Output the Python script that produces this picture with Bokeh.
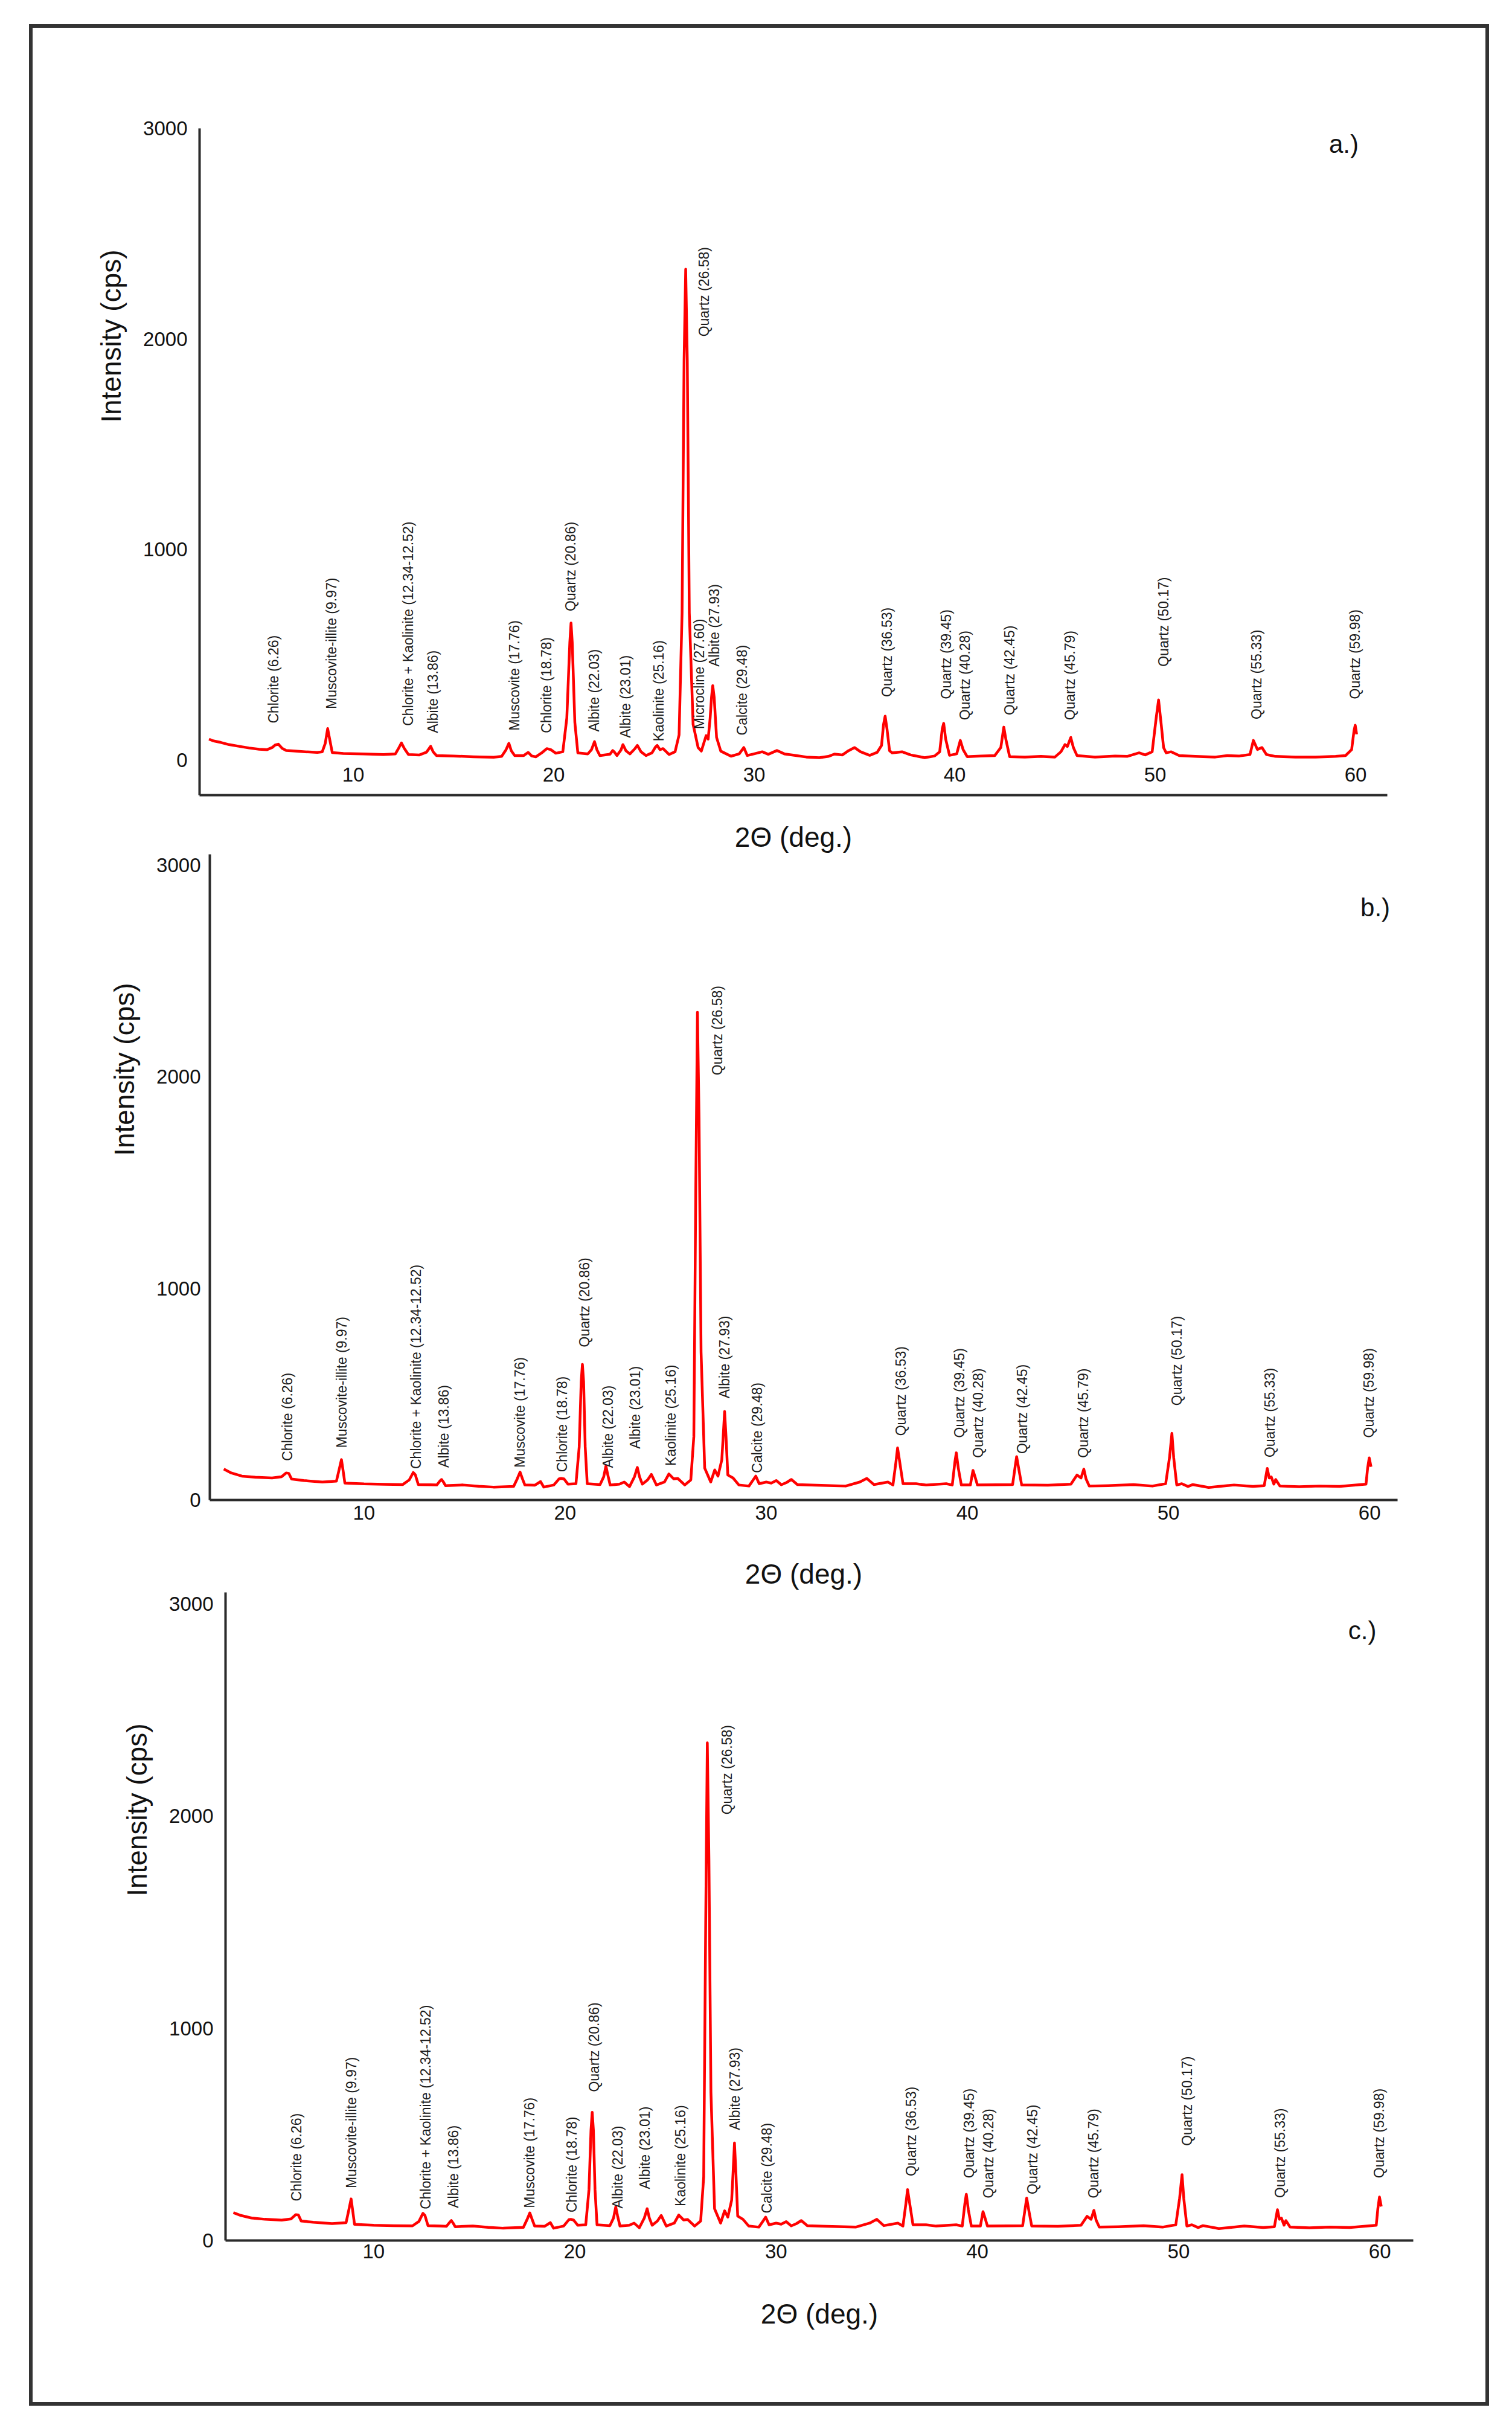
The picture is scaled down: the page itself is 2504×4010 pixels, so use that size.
import math
from bokeh.plotting import figure
from bokeh.models import FixedTicker, Label, Range1d, Title
from bokeh.layouts import column
from bokeh.embed import file_html
from bokeh.resources import INLINE
from bokeh.core.properties import value

FONT = "Liberation Sans"
RED = "#ff0000"
INK = "#1c1c1c"
AXIS_INK = "#2b2b2b"

# ---------------- sample a: diffractogram (2-theta in degrees, counts per second)
two_theta_a = [2.80, 3.00, 3.40, 3.80, 4.30, 4.80, 5.30, 5.70, 5.95, 6.10, 6.26, 6.45, 6.65, 7.00, 7.60, 8.20, 8.45,
               8.60, 8.72, 8.82, 8.95, 9.50, 10.50, 11.50, 12.10, 12.25, 12.40, 12.55, 12.75, 13.30, 13.65, 13.86,
               13.98, 14.15, 15.00, 16.00, 17.00, 17.40, 17.62, 17.76, 17.88, 18.05, 18.50, 18.72, 18.90, 19.10,
               19.40, 19.65, 19.85, 20.10, 20.45, 20.65, 20.80, 20.86, 20.92, 21.05, 21.20, 21.70, 21.88, 22.03,
               22.15, 22.30, 22.80, 22.94, 23.01, 23.15, 23.35, 23.45, 23.60, 23.80, 24.05, 24.17, 24.35, 24.60,
               24.90, 25.07, 25.16, 25.30, 25.45, 25.75, 26.05, 26.25, 26.40, 26.50, 26.58, 26.66, 26.76, 26.95,
               27.20, 27.36, 27.60, 27.70, 27.80, 27.87, 27.93, 28.00, 28.12, 28.33, 28.84, 29.25, 29.48, 29.65,
               30.02, 30.40, 30.70, 31.13, 31.50, 32.00, 32.60, 33.25, 33.70, 34.00, 34.40, 34.70, 35.00, 35.30,
               35.76, 36.13, 36.35, 36.45, 36.53, 36.62, 36.75, 36.88, 37.37, 37.80, 38.50, 39.00, 39.25, 39.38,
               39.45, 39.55, 39.74, 40.10, 40.28, 40.42, 40.62, 41.30, 42.00, 42.30, 42.45, 42.55, 42.74, 43.50,
               44.30, 45.00, 45.30, 45.50, 45.62, 45.79, 45.92, 46.10, 47.00, 48.00, 48.60, 49.20, 49.50, 49.85,
               50.05, 50.17, 50.30, 50.42, 50.55, 50.80, 51.20, 52.00, 53.00, 53.60, 54.20, 54.73, 54.90, 55.10,
               55.33, 55.55, 56.00, 57.00, 58.00, 59.00, 59.50, 59.80, 59.92, 59.98, 60.05]
counts_a = [100, 92, 84, 74, 66, 58, 52, 50, 60, 72, 76, 56, 46, 44, 40, 37, 40,
            80, 150, 100, 36, 32, 30, 27, 30, 55, 82, 55, 27, 25, 38, 66,
            40, 22, 20, 16, 14, 18, 50, 80, 45, 22, 22, 37, 20, 16,
            35, 55, 50, 33, 40, 200, 560, 651, 560, 180, 35, 30, 50, 88,
            50, 22, 28, 46, 40, 22, 48, 74, 45, 30, 55, 70, 40, 22,
            35, 62, 70, 50, 55, 27, 40, 120, 700, 1900, 2331, 1900, 700, 170,
            60, 43, 117, 100, 200, 300, 354, 300, 108, 43, 19, 30, 60, 22,
            31, 40, 28, 46, 30, 23, 15, 12, 18, 29, 25, 45, 60, 40,
            23, 37, 70, 170, 209, 150, 45, 35, 40, 25, 12, 20, 40, 150,
            175, 100, 23, 30, 94, 50, 17, 20, 22, 60, 157, 100, 17, 15,
            18, 15, 40, 74, 65, 108, 60, 22, 15, 20, 18, 35, 25, 40,
            200, 286, 171, 60, 35, 40, 22, 18, 15, 22, 20, 27, 94, 51,
            60, 27, 18, 15, 15, 18, 22, 50, 140, 166, 123]

# ---------------- sample b
two_theta_b = [3.03, 3.40, 3.93, 4.60, 5.43, 5.90, 6.13, 6.26, 6.40, 7.00, 7.93, 8.63, 8.78, 8.88, 8.96, 9.05,
               10.00, 11.00, 11.93, 12.25, 12.45, 12.55, 12.70, 13.30, 13.62, 13.78, 13.86, 13.95, 14.05, 14.93,
               15.70, 16.44, 17.44, 17.62, 17.76, 17.88, 18.00, 18.50, 18.78, 18.94, 19.44, 19.70, 19.80, 19.94,
               20.14, 20.54, 20.70, 20.80, 20.86, 20.92, 21.00, 21.10, 21.74, 21.92, 22.03, 22.12, 22.24, 22.70,
               22.94, 23.20, 23.45, 23.59, 23.70, 23.84, 24.10, 24.29, 24.42, 24.54, 24.94, 25.16, 25.40, 25.60,
               25.95, 26.25, 26.40, 26.50, 26.58, 26.66, 26.76, 26.94, 27.24, 27.44, 27.60, 27.79, 27.86, 27.93,
               28.00, 28.09, 28.35, 28.64, 29.14, 29.35, 29.48, 29.65, 30.00, 30.25, 30.50, 30.75, 31.00, 31.25,
               31.55, 32.50, 33.95, 34.65, 35.00, 35.35, 36.05, 36.30, 36.45, 36.53, 36.62, 36.80, 37.45, 37.95,
               38.95, 39.25, 39.38, 39.45, 39.55, 39.70, 40.15, 40.28, 40.38, 40.50, 41.50, 42.25, 42.38, 42.45,
               42.55, 42.70, 44.00, 45.15, 45.45, 45.65, 45.79, 45.90, 46.06, 47.00, 48.26, 49.20, 49.86, 50.05,
               50.17, 50.26, 50.41, 50.66, 50.97, 51.21, 52.00, 53.26, 54.20, 54.76, 54.91, 55.01, 55.11, 55.24,
               55.33, 55.54, 56.50, 57.50, 58.50, 59.82, 59.90, 59.98, 60.07]
counts_b = [146, 128, 113, 108, 104, 110, 128, 126, 99, 92, 85, 89, 150, 191, 140, 80,
            76, 74, 73, 95, 130, 120, 73, 72, 71, 90, 97, 85, 68, 71,
            65, 61, 64, 100, 132, 100, 71, 70, 87, 61, 71, 100, 102, 100,
            75, 77, 250, 560, 641, 560, 250, 77, 73, 110, 161, 120, 71, 75,
            85, 63, 110, 154, 110, 75, 95, 121, 95, 71, 85, 123, 100, 102,
            71, 95, 300, 1500, 2305, 1800, 700, 151, 85, 142, 113, 189, 300, 418,
            300, 118, 104, 71, 66, 95, 113, 77, 85, 80, 92, 72, 82, 97,
            73, 70, 66, 85, 102, 73, 85, 71, 180, 246, 190, 77, 77, 71,
            77, 71, 180, 223, 150, 71, 71, 140, 110, 71, 72, 73, 160, 205,
            150, 71, 70, 75, 118, 104, 146, 100, 66, 68, 73, 66, 77, 200,
            315, 199, 71, 77, 64, 73, 59, 71, 64, 68, 149, 104, 109, 75,
            97, 66, 63, 66, 64, 75, 150, 199, 157]

# ---------------- sample c
two_theta_c = two_theta_b
counts_c = [131, 118, 106, 100, 96, 102, 122, 120, 92, 86, 80, 84, 150, 196, 140, 76,
            72, 70, 69, 90, 128, 118, 70, 68, 67, 86, 94, 82, 65, 68,
            62, 58, 62, 98, 130, 98, 68, 67, 84, 58, 68, 98, 100, 96,
            72, 74, 240, 520, 604, 520, 240, 74, 70, 106, 158, 116, 68, 72,
            82, 60, 106, 150, 106, 72, 92, 118, 92, 68, 82, 120, 97, 99,
            68, 92, 300, 1500, 2345, 1800, 700, 150, 82, 140, 110, 190, 320, 460,
            320, 115, 100, 68, 63, 92, 110, 74, 82, 77, 89, 69, 79, 94,
            70, 67, 63, 82, 100, 70, 82, 68, 175, 240, 185, 74, 74, 68,
            74, 68, 175, 218, 145, 68, 68, 136, 106, 68, 69, 70, 155, 200,
            145, 68, 67, 72, 114, 100, 142, 96, 63, 65, 70, 63, 74, 200,
            310, 195, 68, 74, 61, 70, 56, 68, 61, 65, 145, 100, 105, 72,
            94, 63, 60, 63, 61, 72, 150, 205, 160]

# ---------------- phase identifications (text, anchor 2-theta, anchor counts)
phases_a = ["Chlorite (6.26)", "Muscovite-illite (9.97)", "Chlorite + Kaolinite (12.34-12.52)", "Albite (13.86)",
            "Muscovite (17.76)", "Chlorite (18.78)", "Quartz (20.86)", "Albite (22.03)", "Albite (23.01)",
            "Kaolinite (25.16)", "Quartz (26.58)", "Microcline (27.60)", "Albite (27.93)", "Calcite (29.48)",
            "Quartz (36.53)", "Quartz (39.45)", "Quartz (40.28)", "Quartz (42.45)", "Quartz (45.79)",
            "Quartz (50.17)", "Quartz (55.33)", "Quartz (59.98)"]
label_x_a = [6.03, 8.92, 12.74, 13.98, 18.04, 19.65, 20.84, 22.00, 23.57, 25.24, 27.49, 27.25, 28.00, 29.39,
             36.63, 39.57, 40.52, 42.74, 45.74, 50.41, 55.06, 59.98]
label_y_a = [175, 243, 163, 129, 140, 129, 707, 135, 106, 89, 2011, 147, 444, 118,
             300, 290, 190, 214, 190, 444, 194, 290]

phases_bc = ["Chlorite (6.26)", "Muscovite-illite (9.97)", "Chlorite + Kaolinite (12.34-12.52)", "Albite (13.86)",
             "Muscovite (17.76)", "Chlorite (18.78)", "Quartz (20.86)", "Albite (22.03)", "Albite (23.01)",
             "Kaolinite (25.16)", "Quartz (26.58)", "Albite (27.93)", "Calcite (29.48)",
             "Quartz (36.53)", "Quartz (39.45)", "Quartz (40.28)", "Quartz (42.45)", "Quartz (45.79)",
             "Quartz (50.17)", "Quartz (55.33)", "Quartz (59.98)"]
label_x_b = [6.18, 8.90, 12.58, 13.98, 17.76, 19.86, 20.96, 22.14, 23.49, 25.26, 27.56, 27.94, 29.54,
             36.70, 39.60, 40.55, 42.74, 45.76, 50.43, 55.05, 59.96]
label_y_b = [185, 246, 147, 153, 153, 132, 722, 151, 242, 161, 2007, 480, 128,
             303, 294, 199, 218, 199, 446, 201, 294]
label_x_c = label_x_b
label_y_c = [185, 246, 147, 153, 153, 132, 700, 151, 242, 161, 2007, 520, 128,
             303, 294, 199, 218, 199, 446, 201, 294]

x_ticks = [10, 20, 30, 40, 50, 60]
y_ticks = [0, 1000, 2000, 3000]

PANEL_W = 2363
BORDER_L = 276
BORDER_R = 120


def make_panel(tt, cps, texts, lx, ly, tag, tag_xy, geom):
    p = figure(width=PANEL_W, height=geom["h"], title=None,
               x_range=Range1d(*geom["xr"]), y_range=Range1d(*geom["yr"]),
               output_backend="svg", toolbar_location=None,
               min_border_left=BORDER_L, min_border_right=BORDER_R,
               min_border_top=geom["t"], min_border_bottom=geom["b"],
               margin=(0, 0, 0, geom["shift"]))
    p.grid.visible = False
    p.outline_line_color = None
    p.background_fill_color = None
    p.border_fill_color = None

    p.line(tt, cps, line_color=RED, line_width=4.5, line_join="round")
    p.text(x=lx, y=ly, text=texts, angle=math.pi / 2, text_align="left", text_baseline="middle",
           text_font=value(FONT), text_font_size="23px", text_color=INK)

    for ax in (p.xaxis, p.yaxis):
        ax.axis_line_color = AXIS_INK
        ax.axis_line_width = 4
        ax.major_tick_line_color = None
        ax.minor_tick_line_color = None
        ax.major_tick_out = 0
        ax.major_tick_in = 0
        ax.major_label_text_font = FONT
        ax.major_label_text_font_size = "33px"
        ax.major_label_text_color = "#111111"
    p.xaxis.ticker = FixedTicker(ticks=x_ticks)
    p.yaxis.ticker = FixedTicker(ticks=y_ticks)
    p.xaxis.major_label_standoff = geom["xso"]
    p.yaxis.major_label_standoff = geom["yso"]
    p.xaxis.axis_label = "2Θ (deg.)"
    p.xaxis.axis_label_text_font = FONT
    p.xaxis.axis_label_text_font_size = "46px"
    p.xaxis.axis_label_text_font_style = "normal"
    p.xaxis.axis_label_text_color = "#111111"
    p.xaxis.axis_label_standoff = geom["xls"]

    p.add_layout(Title(text="Intensity (cps)", align="right", offset=geom["yl_off"],
                       standoff=geom["yl_so"], text_font=FONT, text_font_size="46px",
                       text_font_style="normal", text_color="#111111"), "left")
    p.add_layout(Label(x=tag_xy[0], y=tag_xy[1], text=tag, text_align="center", text_baseline="middle",
                       text_font=FONT, text_font_size="42px", text_color="#111111"))
    return p


pa = make_panel(two_theta_a, counts_a, phases_a, label_x_a, label_y_a, "a.)", (59.41, 2926),
                dict(h=1368, shift=0, xr=(2.33, 61.58), yr=(-166, 3000), t=166, b=94,
                     xso=-46, yso=20, xls=63, yl_off=201, yl_so=50))
pb = make_panel(two_theta_b, counts_b, phases_bc, label_x_b, label_y_b, "b.)", (60.28, 2800),
                dict(h=1222, shift=17, xr=(2.336, 61.39), yr=(0, 3051), t=0, b=153,
                     xso=9, yso=15, xls=61, yl_off=213, yl_so=50))
pc = make_panel(two_theta_c, counts_c, phases_bc, label_x_c, label_y_c, "c.)", (59.13, 2875),
                dict(h=1341, shift=43, xr=(2.64, 61.66), yr=(0, 3054), t=0, b=268,
                     xso=6, yso=20, xls=63, yl_off=217, yl_so=50))

page = column(pa, pb, pc, styles={"border": "6px solid #333333", "margin-left": "48px",
                                  "margin-top": "40px", "background": "white"})

open("out.html", "w").write(file_html(page, INLINE))
